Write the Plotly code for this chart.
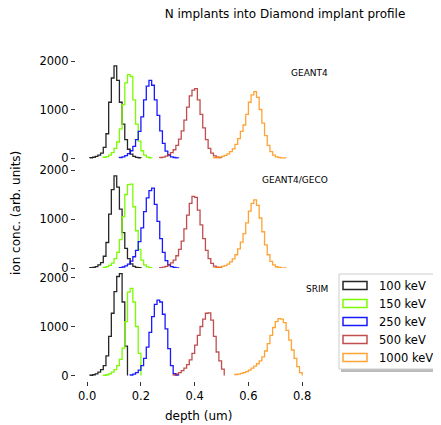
import plotly.graph_objects as go

# ---------------- data ----------------
BIN_WIDTH = 0.01  # um
ENERGIES = ["100 keV", "150 keV", "250 keV", "500 keV", "1000 keV"]
PANELS = ["GEANT4", "GEANT4/GECO", "SRIM"]

# left edge (um) of first bin of each series
G4_START = [0.01, 0.06, 0.12, 0.27, 0.47]
G4_100 = [5, 15, 35, 60, 100, 220, 500, 1150, 1650, 1900, 1600, 1150, 700, 380, 180, 80, 35, 12, 5]
G4_150 = [15, 30, 60, 110, 200, 330, 600, 1100, 1550, 1720, 1680, 1200, 700, 350, 150, 60, 20, 5]
G4_250 = [10, 25, 50, 90, 150, 240, 380, 550, 850, 1200, 1480, 1600, 1500, 1200, 880, 560, 300, 140, 60, 25, 10, 3]
G4_500 = [10, 20, 40, 70, 110, 170, 260, 390, 560, 780, 1050, 1280, 1400, 1430, 1200, 900, 620, 380, 200, 100, 45, 18, 6]
G4_1000 = [5, 10, 20, 35, 55, 85, 130, 190, 280, 400, 550, 680, 900, 1150, 1300, 1370, 1250, 1000, 720, 460, 260, 130, 60, 25, 10, 4, 2]

GECO_START = [0.01, 0.06, 0.12, 0.27, 0.47]
GECO_100 = [5, 12, 30, 65, 110, 240, 520, 1100, 1600, 1880, 1650, 1200, 720, 400, 190, 85, 35, 12, 5]
GECO_150 = [12, 28, 55, 100, 190, 320, 580, 1050, 1500, 1700, 1710, 1250, 760, 380, 160, 65, 22, 6]
GECO_250 = [8, 20, 45, 80, 140, 230, 360, 540, 820, 1150, 1430, 1580, 1630, 1300, 950, 600, 320, 150, 65, 28, 10, 3]
GECO_500 = [8, 18, 35, 65, 105, 160, 250, 380, 550, 800, 1080, 1320, 1460, 1440, 1180, 880, 600, 360, 190, 95, 40, 15, 5]
GECO_1000 = [4, 9, 18, 32, 50, 80, 125, 185, 270, 390, 530, 700, 920, 1160, 1320, 1390, 1280, 1020, 740, 470, 270, 135, 62, 26, 10, 4, 2]

SRIM_START = [0.01, 0.06, 0.16, 0.32, 0.55]
SRIM_100 = [5, 15, 35, 70, 120, 200, 400, 800, 1270, 1710, 2020, 2080, 1500, 600]
SRIM_150 = [5, 15, 35, 70, 120, 200, 330, 560, 1100, 1700, 1780, 1500, 1000, 450]
SRIM_250 = [10, 30, 60, 110, 200, 350, 580, 880, 1200, 1450, 1540, 1500, 1250, 950, 550, 200, 40, 10]
SRIM_500 = [10, 30, 60, 100, 150, 220, 320, 450, 620, 820, 1000, 1150, 1270, 1280, 1130, 800, 480, 300, 130]
SRIM_1000 = [20, 30, 45, 60, 80, 110, 150, 190, 240, 300, 380, 500, 650, 820, 980, 1100, 1160, 1150, 1080, 920, 720, 520, 350, 180, 60]

X_TICKS = [0.0, 0.2, 0.4, 0.6, 0.8]
Y_TICKS = [0, 1000, 2000]

PANEL_SERIES = [
    (G4_START, [G4_100, G4_150, G4_250, G4_500, G4_1000]),
    (GECO_START, [GECO_100, GECO_150, GECO_250, GECO_500, GECO_1000]),
    (SRIM_START, [SRIM_100, SRIM_150, SRIM_250, SRIM_500, SRIM_1000]),
]

# ---------------- styling / layout ----------------
COLORS = ["rgba(0,0,0,0.85)", "rgba(124,252,0,1)", "rgba(0,0,255,0.9)",
          "rgba(178,34,34,0.8)", "rgba(255,140,0,0.8)"]
FONT = "DejaVu Sans"

# the page body adds an 8px offset; the figure is sized to fill the rest
OFF = 8
W, H = 441 - OFF, 425 - OFF
ML, MR, MT, MB = 76 - OFF, 111, 50 - OFF, 44
PW, PH = W - ML - MR, H - MT - MB


def pxx(p):  # reference-picture x pixel -> paper
    return (p - OFF - ML) / PW


def pxy(p):  # reference-picture y pixel -> paper
    return (H - MB - (p - OFF)) / PH


PANEL_BOX = [(56, 163), (166, 273), (268, 381)]   # top, bottom pixels
ZERO_PX = [158, 268, 375.5]
PX_PER_1000 = [48.5, 49, 49]
LABEL_Y = [73, 180, 289]
X_RANGE = [-0.0415, 0.9035]

fig = go.Figure()

for k, (starts, series) in enumerate(PANEL_SERIES):
    ax = "" if k == 0 else str(k + 1)
    for j, vals in enumerate(series):
        s = starts[j]
        edges = [round(s + BIN_WIDTH * i, 4) for i in range(len(vals) + 1)]
        xs = [edges[0]] + edges[:-1] + [edges[-1]]
        ys = [0] + list(vals) + [0]
        fig.add_trace(go.Scatter(
            x=xs, y=ys, mode="lines",
            line=dict(shape="hv", color=COLORS[j], width=1.3),
            xaxis="x" + ax, yaxis="y" + ax,
            showlegend=False, hoverinfo="skip"))

layout = dict(
    width=W, height=H,
    margin=dict(l=ML, r=MR, t=MT, b=MB, pad=0),
    paper_bgcolor="white", plot_bgcolor="white",
    font=dict(family=FONT, size=12, color="black"),
    showlegend=False,
    title=dict(text="N implants into Diamond implant profile",
               x=(285 - OFF) / W, xref="container", xanchor="center",
               y=1 - (14 - OFF) / H, yref="container", yanchor="middle",
               font=dict(family=FONT, size=12, color="black")),
)

for k in range(3):
    ax = "" if k == 0 else str(k + 1)
    top, bot = PANEL_BOX[k]
    z, s = ZERO_PX[k], PX_PER_1000[k]
    yr = [-(bot - z) / s * 1000, (z - top) / s * 1000]
    last = (k == 2)
    layout["xaxis" + ax] = dict(
        domain=[0, 1], range=X_RANGE, anchor="y" + ax,
        showgrid=False, zeroline=False, showline=False,
        ticks="outside" if last else "", ticklen=4, tickcolor="#333",
        showticklabels=last, tickvals=X_TICKS,
        ticktext=[f"{v:.1f}" for v in X_TICKS],
        tickfont=dict(family=FONT, size=11.5, color="black"))
    layout["yaxis" + ax] = dict(
        domain=[pxy(bot), pxy(top)], range=yr, anchor="x" + ax,
        showgrid=False, zeroline=False, showline=False,
        ticks="outside", ticklen=4, tickcolor="#333",
        tickvals=Y_TICKS, ticktext=[str(v) for v in Y_TICKS],
        tickfont=dict(family=FONT, size=11.5, color="black"))

annotations = []
for k, name in enumerate(PANELS):
    annotations.append(dict(text=name, xref="paper", yref="paper",
                            x=1.0, y=pxy(LABEL_Y[k]), xanchor="right", yanchor="middle",
                            showarrow=False, font=dict(family=FONT, size=9, color="black")))
annotations.append(dict(text="ion conc. (arb. units)", xref="paper", yref="paper",
                        x=pxx(16), y=pxy(213), textangle=-90,
                        xanchor="center", yanchor="middle", showarrow=False,
                        font=dict(family=FONT, size=12, color="black")))
annotations.append(dict(text="depth (um)", xref="paper", yref="paper",
                        x=pxx(198), y=pxy(416), xanchor="center", yanchor="middle",
                        showarrow=False, font=dict(family=FONT, size=12, color="black")))

# custom legend (outlined patches like matplotlib step histograms)
shapes = []
LB = (339, 274, 439, 369)
shapes.append(dict(type="rect", xref="paper", yref="paper",
                   x0=pxx(LB[0] + 2), x1=pxx(LB[2] + 2), y0=pxy(LB[3] + 3), y1=pxy(LB[1] + 3),
                   fillcolor="rgba(120,120,120,0.5)", line=dict(width=0), layer="above"))
shapes.append(dict(type="rect", xref="paper", yref="paper",
                   x0=pxx(LB[0]), x1=pxx(LB[2]), y0=pxy(LB[3]), y1=pxy(LB[1]),
                   fillcolor="white", line=dict(color="#cccccc", width=1), layer="above"))
for j, lab in enumerate(ENERGIES):
    cy = 285.5 + 18 * j
    shapes.append(dict(type="rect", xref="paper", yref="paper",
                       x0=pxx(343), x1=pxx(367), y0=pxy(cy + 4), y1=pxy(cy - 4),
                       fillcolor="rgba(0,0,0,0)", line=dict(color=COLORS[j], width=1.5),
                       layer="above"))
    annotations.append(dict(text=lab, xref="paper", yref="paper",
                            x=pxx(377), y=pxy(cy), xanchor="left", yanchor="middle",
                            showarrow=False, font=dict(family=FONT, size=11.5, color="black")))

layout["annotations"] = annotations
layout["shapes"] = shapes
fig.update_layout(**layout)
fig.write_html("out.html")
